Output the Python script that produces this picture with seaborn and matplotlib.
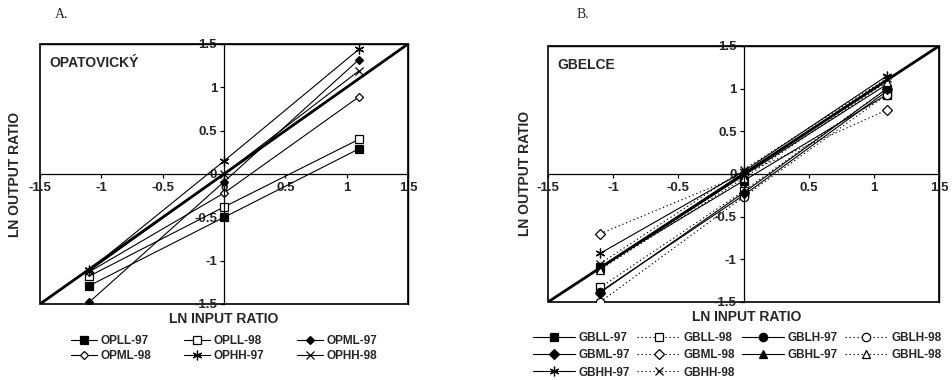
import numpy as np
import pandas as pd
import matplotlib
matplotlib.use("Agg")
import matplotlib.pyplot as plt
import seaborn as sns

sns.set_style("white")
plt.rcParams['font.family'] = ['Liberation Sans', 'DejaVu Sans']
plt.rcParams['font.weight'] = 'bold'

# ---------------- data ----------------
x_levels = [-1.1, 0.0, 1.1]
diag = [-1.5, 1.5]
tick_vals = [-1.5, -1.0, -0.5, 0.0, 0.5, 1.0, 1.5]
tick_labels = ['-1.5', '-1', '-0.5', '0', '0.5', '1', '1.5']

# Panel A: OPATOVICKÝ
a_names = ['OPLL-97', 'OPLL-98', 'OPML-97', 'OPML-98', 'OPHH-97', 'OPHH-98']
opll_97 = [-1.29, -0.50, 0.29]
opll_98 = [-1.18, -0.38, 0.40]
opml_97 = [-1.48, -0.09, 1.32]
opml_98 = [-1.13, -0.22, 0.89]
ophh_97 = [-1.11, 0.15, 1.44]
ophh_98 = [-1.12, 0.00, 1.19]

# Panel B: GBELCE
b_names = ['GBLL-97', 'GBLL-98', 'GBLH-97', 'GBLH-98', 'GBML-97',
           'GBML-98', 'GBHL-97', 'GBHL-98', 'GBHH-97', 'GBHH-98']
gbll_97 = [-1.09, -0.08, 0.93]
gbll_98 = [-1.33, -0.20, 1.00]
gblh_97 = [-1.38, -0.25, 0.97]
gblh_98 = [-1.50, -0.27, 0.93]
gbml_97 = [-1.39, -0.22, 1.00]
gbml_98 = [-0.70, 0.00, 0.75]
gbhl_97 = [-1.10, -0.02, 1.05]
gbhl_98 = [-1.12, -0.05, 1.08]
gbhh_97 = [-0.93, 0.03, 1.15]
gbhh_98 = [-1.05, 0.05, 1.12]

a_series = [opll_97, opll_98, opml_97, opml_98, ophh_97, ophh_98]
b_series = [gbll_97, gbll_98, gblh_97, gblh_98, gbml_97,
            gbml_98, gbhl_97, gbhl_98, gbhh_97, gbhh_98]

# ---------------- styles ----------------
ASTER = (6, 2, 0)
a_styles = [
    dict(marker='s', ms=5.5, mfc='black'),
    dict(marker='s', ms=5.5, mfc='white'),
    dict(marker='D', ms=4, mfc='black'),
    dict(marker='D', ms=4, mfc='white'),
    dict(marker=ASTER, ms=7, mfc='black'),
    dict(marker='x', ms=6, mfc='black'),
]
DOT = (0, (1.2, 2.4))
b_styles = [
    dict(marker='s', ms=6, mfc='black', ls='-'),
    dict(marker='s', ms=6, mfc='white', ls=DOT),
    dict(marker='o', ms=6, mfc='black', ls='-'),
    dict(marker='o', ms=6, mfc='white', ls=DOT),
    dict(marker='D', ms=5, mfc='black', ls='-'),
    dict(marker='D', ms=5, mfc='white', ls=DOT),
    dict(marker='^', ms=6, mfc='black', ls='-'),
    dict(marker='^', ms=6, mfc='white', ls=DOT),
    dict(marker=ASTER, ms=7, mfc='black', ls='-'),
    dict(marker='x', ms=6, mfc='black', ls=DOT),
]

fig = plt.figure(figsize=(9.53, 3.80), dpi=100)
axA = fig.add_axes([40/953, 1-304/380, 368/953, 260/380])
axB = fig.add_axes([548/953, 1-302/380, 391/953, 256/380])


def style_axes(ax, title_txt):
    ax.set_xlim(-1.5, 1.5)
    ax.set_ylim(-1.5, 1.5)
    for s in ['top', 'right']:
        ax.spines[s].set_visible(True)
        ax.spines[s].set_color('black')
        ax.spines[s].set_linewidth(1.0)
    ax.spines['left'].set_position('zero')
    ax.spines['bottom'].set_position('zero')
    for s in ['left', 'bottom']:
        ax.spines[s].set_color('black')
        ax.spines[s].set_linewidth(0.9)
    ax.patch.set_edgecolor('black')
    ax.patch.set_linewidth(1.2)
    ax.set_xticks(tick_vals)
    ax.set_xticklabels(tick_labels, fontweight='bold', fontsize=9.5)
    ax.set_yticks(tick_vals)
    ax.set_yticklabels(tick_labels, fontweight='bold', fontsize=9.5)
    ax.tick_params(axis='both', direction='out', length=3, width=0.9,
                   color='black', pad=1)
    ax.tick_params(axis='x', bottom=True, pad=3)
    ax.tick_params(axis='y', left=True, pad=2)
    ax.set_xlabel('')
    ax.set_ylabel('')
    ax.text(0.025, 0.955, title_txt, transform=ax.transAxes, ha='left',
            va='top', fontsize=10, fontweight='bold')


# ---------- panel A ----------
for name, ys, st in zip(a_names, a_series, a_styles):
    sns.lineplot(x=x_levels, y=ys, ax=axA, color='black', lw=0.8,
                 marker=st['marker'], markersize=st['ms'],
                 markerfacecolor=st['mfc'], markeredgecolor='black',
                 markeredgewidth=0.9, label=name, legend=False)
sns.lineplot(x=diag, y=diag, ax=axA, color='black', lw=2.0, legend=False)
style_axes(axA, 'OPATOVICKÝ')

# ---------- panel B ----------
for name, ys, st in zip(b_names, b_series, b_styles):
    sns.lineplot(x=x_levels, y=ys, ax=axB, color='black', lw=0.8,
                 linestyle=st['ls'],
                 marker=st['marker'], markersize=st['ms'],
                 markerfacecolor=st['mfc'], markeredgecolor='black',
                 markeredgewidth=0.9, label=name, legend=False)
sns.lineplot(x=diag, y=diag, ax=axB, color='black', lw=2.0, legend=False)
style_axes(axB, 'GBELCE')

# axis labels
fig.text(224/953, 1-319/380, 'LN INPUT RATIO', ha='center', va='center',
         fontsize=10, fontweight='bold')
fig.text(747/953, 1-317/380, 'LN INPUT RATIO', ha='center', va='center',
         fontsize=10, fontweight='bold')
fig.text(15/953, 1-174/380, 'LN OUTPUT RATIO', ha='center', va='center',
         rotation=90, fontsize=10, fontweight='bold')
fig.text(525/953, 1-173/380, 'LN OUTPUT RATIO', ha='center', va='center',
         rotation=90, fontsize=10, fontweight='bold')

# panel letters
fig.text(55/953, 1-15/380, 'A.', ha='left', va='center', fontsize=10,
         family=['Liberation Serif', 'DejaVu Serif'], fontweight='normal')
fig.text(577/953, 1-15/380, 'B.', ha='left', va='center', fontsize=10,
         family=['Liberation Serif', 'DejaVu Serif'], fontweight='normal')

# legends (reorder so entries fill row by row)
hA, lA = axA.get_legend_handles_labels()
orderA = [0, 3, 1, 4, 2, 5]
legA = fig.legend([hA[i] for i in orderA], [lA[i] for i in orderA],
                  loc='upper center', ncol=3,
                  bbox_to_anchor=(224/953, 1-329/380), frameon=False,
                  fontsize=8.5, handlelength=2.2, handletextpad=0.3,
                  columnspacing=2.8, labelspacing=0.25, borderpad=0)
hB, lB = axB.get_legend_handles_labels()
orderB = [0, 4, 8, 1, 5, 9, 2, 6, 3, 7]
legB = fig.legend([hB[i] for i in orderB], [lB[i] for i in orderB],
                  loc='upper center', ncol=4,
                  bbox_to_anchor=(737/953, 1-326/380), frameon=False,
                  fontsize=8.5, handlelength=3.6, handletextpad=0.3,
                  columnspacing=0.6, labelspacing=0.45, borderpad=0)
for t in legA.get_texts() + legB.get_texts():
    t.set_fontweight('bold')

fig.savefig('out.png', dpi=100, facecolor='white')
